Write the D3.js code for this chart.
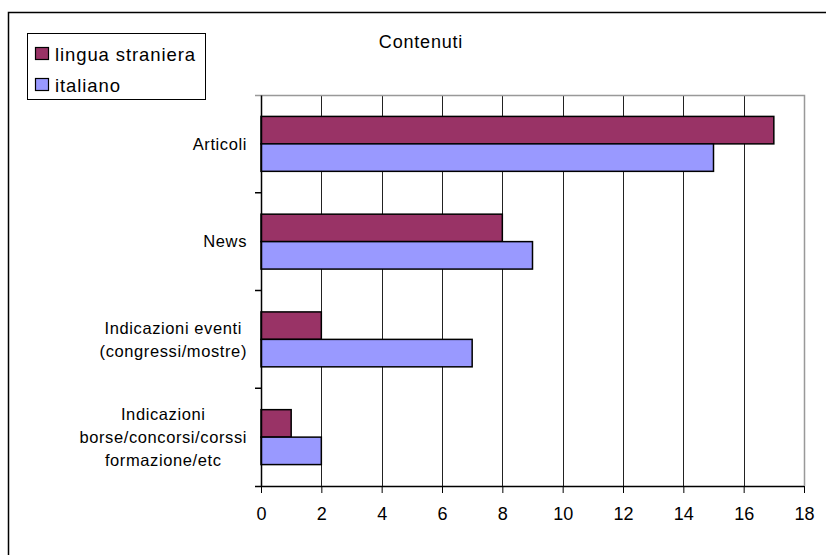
<!DOCTYPE html>
<html>
<head>
<meta charset="utf-8">
<script src="https://cdn.jsdelivr.net/npm/d3@7"></script>
<style>
  body { margin: 0; background: #fff; }
  text { font-family: "Liberation Sans", Arial, sans-serif; fill: #000; }
</style>
</head>
<body>
<div class="chart"></div>
<script>
// data
const categories = ["Articoli", "News", "Indicazioni eventi (congressi/mostre)", "Indicazioni borse/concorsi/corssi formazione/etc"];
const categoryLines = [["Articoli"], ["News"], ["Indicazioni eventi", "(congressi/mostre)"], ["Indicazioni", "borse/concorsi/corssi", "formazione/etc"]];
const series = ["lingua straniera", "italiano"];
const linguaStraniera = [17, 8, 2, 1];
const italiano = [15, 9, 7, 2];
const xTicks = [0, 2, 4, 6, 8, 10, 12, 14, 16, 18];
const colors = ["#993366", "#9999ff"];

const W = 826, H = 555;
const plot = {left: 261, right: 804, top: 95, bottom: 486};

const svg = d3.select(".chart")
    .append("svg")
    .attr("width", W)
    .attr("height", H);

// outer frame (runs off the right and bottom edge)
svg.append("rect")
    .attr("x", 8.5).attr("y", 12.5)
    .attr("width", 840).attr("height", 560)
    .attr("fill", "#fff")
    .attr("stroke", "#000")
    .attr("stroke-width", 1.5);

const xScale = d3.scaleLinear()
    .domain([0, 18])
    .range([plot.left, plot.right]);

const yScale = d3.scaleBand()
    .domain(categories)
    .range([plot.top, plot.bottom]);

const ySub = d3.scaleBand()
    .domain(series)
    .range([0, yScale.bandwidth()])
    .paddingInner(0)
    .paddingOuter(0.78);

// grid lines
svg.append("g")
    .selectAll("line")
    .data(xTicks.filter(d => d > 0 && d < 18))
    .enter()
    .append("line")
    .attr("x1", d => Math.round(xScale(d)) + 0.5)
    .attr("x2", d => Math.round(xScale(d)) + 0.5)
    .attr("y1", plot.top)
    .attr("y2", plot.bottom)
    .attr("stroke", "#222")
    .attr("stroke-width", 1);

// top and right border of plot area
svg.append("path")
    .attr("d", `M${plot.left - 6},${plot.top + 0.5}H${plot.right + 0.5}V${plot.bottom}`)
    .attr("fill", "none")
    .attr("stroke", "#999")
    .attr("stroke-width", 1.5);

// bars
const rows = categories.map((c, i) => ({cat: c, values: [linguaStraniera[i], italiano[i]]}));

svg.append("g")
    .selectAll("g")
    .data(rows)
    .enter()
    .append("g")
    .attr("transform", d => `translate(0,${yScale(d.cat)})`)
    .selectAll("rect")
    .data(d => d.values.map((v, j) => ({key: series[j], value: v, j: j})))
    .enter()
    .append("rect")
    .attr("x", xScale(0))
    .attr("y", d => ySub(d.key))
    .attr("width", d => xScale(d.value) - xScale(0))
    .attr("height", ySub.bandwidth())
    .attr("fill", d => colors[d.j])
    .attr("stroke", "#000")
    .attr("stroke-width", 1.5);

// axes
const xAxis = d3.axisBottom(xScale)
    .tickValues(xTicks)
    .tickSize(7)
    .tickPadding(14)
    .tickSizeOuter(0);

svg.append("g")
    .attr("class", "x-axis")
    .attr("transform", `translate(0,${plot.bottom})`)
    .call(xAxis)
    .call(g => g.select(".domain").attr("d", `M${plot.left - 6},0.5H${plot.right}`).attr("stroke-width", 1.5))
    .call(g => g.selectAll(".tick text")
        .attr("font-size", 18)
        .attr("font-family", "Liberation Sans, Arial, sans-serif")
        .attr("fill", "#000"));

const yAxis = d3.axisLeft(yScale)
    .tickValues([])
    .tickSizeOuter(0);

svg.append("g")
    .attr("class", "y-axis")
    .attr("transform", `translate(${plot.left},0)`)
    .call(yAxis)
    .call(g => g.select(".domain").attr("stroke-width", 1.5));

// band boundary ticks on the left axis
svg.append("g")
    .selectAll("line")
    .data(categories.slice(1))
    .enter()
    .append("line")
    .attr("x1", plot.left - 6)
    .attr("x2", plot.left)
    .attr("y1", d => yScale(d))
    .attr("y2", d => yScale(d))
    .attr("stroke", "#000")
    .attr("stroke-width", 1.5);

// category labels: block right-aligned, lines centred
const lineH = 23;
const catG = svg.append("g");
categories.forEach((c, i) => {
    const lines = categoryLines[i];
    const t = catG.append("text")
        .attr("font-size", 16.5)
        .attr("letter-spacing", 0.6)
        .attr("text-anchor", "middle");
    lines.forEach((ln, k) => {
        t.append("tspan").text(ln);
    });
    let maxW = 0;
    t.selectAll("tspan").each(function() { maxW = Math.max(maxW, this.getComputedTextLength()); });
    const cx = 247 - maxW / 2;
    const cy = yScale(c) + yScale.bandwidth() / 2;
    t.selectAll("tspan")
        .attr("x", cx)
        .attr("y", (d, k) => cy + (k - (lines.length - 1) / 2) * lineH)
        .attr("dy", "0.35em");
});

// title
svg.append("text")
    .attr("x", 421)
    .attr("y", 48)
    .attr("text-anchor", "middle")
    .attr("font-size", 18)
    .attr("letter-spacing", 0.8)
    .text("Contenuti");

// legend
const legend = svg.append("g");
legend.append("rect")
    .attr("x", 27.5).attr("y", 33.5)
    .attr("width", 178).attr("height", 66)
    .attr("fill", "#fff")
    .attr("stroke", "#000")
    .attr("stroke-width", 1);

legend.selectAll(".legend-color")
    .data(series)
    .enter()
    .append("rect")
    .attr("x", 35.5)
    .attr("y", (d, i) => 47.5 + i * 31)
    .attr("width", 13)
    .attr("height", 12)
    .attr("fill", (d, i) => colors[i])
    .attr("stroke", "#000")
    .attr("stroke-width", 1.2);

legend.selectAll(".legend-text")
    .data(series)
    .enter()
    .append("text")
    .attr("x", 55)
    .attr("y", (d, i) => 61 + i * 31)
    .attr("font-size", 18.5)
    .attr("letter-spacing", 0.9)
    .text(d => d);
</script>
</body>
</html>
